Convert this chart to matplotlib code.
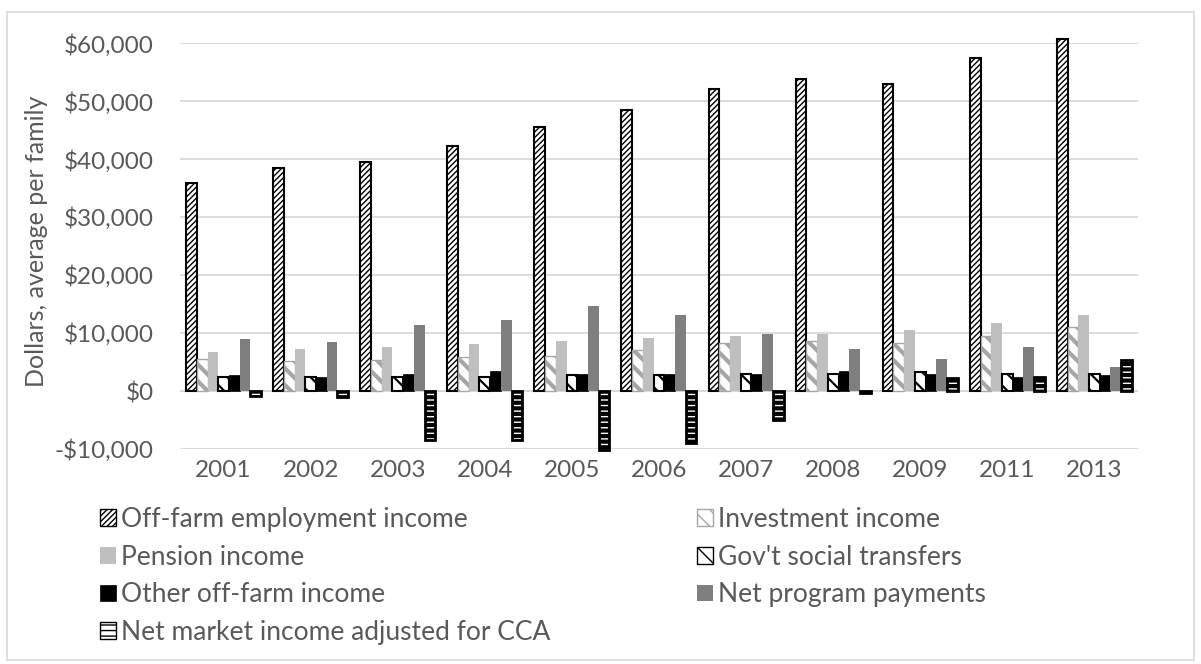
import numpy as np
import matplotlib
matplotlib.use("Agg")
import matplotlib.pyplot as plt
from matplotlib.patches import Rectangle, Patch
from matplotlib.ticker import FuncFormatter

plt.rcParams["font.family"] = ["Lato", "DejaVu Sans"]

years = ["2001", "2002", "2003", "2004", "2005", "2006", "2007", "2008", "2009", "2011", "2013"]

off_farm_employment = [35800, 38500, 39500, 42300, 45500, 48400, 52100, 53800, 52900, 57500, 60700]
investment = [5500, 5100, 5300, 5800, 6000, 7100, 8200, 8700, 8300, 9500, 11100]
pension = [6800, 7200, 7600, 8100, 8600, 9200, 9500, 9900, 10600, 11700, 13100]
govt_transfers = [2400, 2500, 2500, 2500, 2700, 2800, 3000, 2900, 3200, 3000, 2900]
other_off_farm = [2800, 2500, 3000, 3500, 2900, 3000, 3000, 3500, 2900, 2400, 2800]
net_program = [9000, 8500, 11300, 12200, 14600, 13100, 9900, 7200, 5500, 7600, 4200]
net_market_cca = [-900, -1000, -8500, -8400, -10100, -9000, -5000, -300, 2200, 2400, 5300]

labels = ["Off-farm employment income", "Investment income", "Pension income",
          "Gov't social transfers", "Other off-farm income", "Net program payments",
          "Net market income adjusted for CCA"]

series = [off_farm_employment, investment, pension, govt_transfers,
          other_off_farm, net_program, net_market_cca]

# face, edge, hatch, edge width, hatch width
styles = [
    ("white", "black", "//////", 1.5, 1.0),
    ("white", "#a6a6a6", "\\\\", 1.0, 3.0),
    ("#bfbfbf", "none", None, 0, 1.0),
    ("white", "black", "\\\\", 1.5, 1.6),
    ("black", "black", None, 0.5, 1.0),
    ("#7f7f7f", "none", None, 0, 1.0),
    ("white", "black", "---", 2.0, 3.0),
]

TXT = "#595959"

fig = plt.figure(figsize=(12.01, 6.64), dpi=100)
ax = fig.add_axes([0.1499, 0.3238, 0.7976, 0.6114])

x = np.arange(len(years))
w = 0.123
handles = []
for i, (vals, (fc, ec, hatch, lw, hlw)) in enumerate(zip(series, styles)):
    bars = ax.bar(x + (i - 3) * w, vals, w, color=fc, edgecolor=ec, hatch=hatch,
                  linewidth=lw, zorder=3, clip_on=False)
    for b in bars:
        if hasattr(b, "set_hatch_linewidth"):
            b.set_hatch_linewidth(hlw)
    h = Patch(facecolor=fc, edgecolor=ec, hatch=hatch, linewidth=min(lw, 1.0))
    if hasattr(h, "set_hatch_linewidth"):
        h.set_hatch_linewidth(min(hlw, 1.5))
    handles.append(h)

ax.set_xlim(-0.5, len(years) - 0.5)
ax.set_ylim(-10000, 60000)
ax.set_yticks(np.arange(-10000, 60001, 10000))
ax.yaxis.set_major_formatter(FuncFormatter(
    lambda v, p: ("-$" if v < 0 else "$") + f"{abs(int(v)):,}"))
ax.set_xticks(x)
ax.set_xticklabels(years)
ax.grid(axis="y", color="#d9d9d9", linewidth=1.3, zorder=0)
ax.axhline(0, color="#d9d9d9", linewidth=1.3, zorder=1)
for s in ax.spines.values():
    s.set_visible(False)
ax.tick_params(length=0, labelsize=17.5, colors=TXT)
ax.tick_params(axis="y", pad=19)
ax.tick_params(axis="x", pad=8)
ax.set_ylabel("Dollars, average per family", fontsize=18, color=TXT)
ax.yaxis.set_label_coords(-0.1378, 0.512)

# legend: two columns read row by row
leg_kw = dict(loc="upper left", frameon=False, fontsize=19, labelcolor=TXT,
              handlelength=0.6, handleheight=0.6, handletextpad=0.2,
              labelspacing=0.48, borderaxespad=0, borderpad=0)
left = [0, 2, 4, 6]
right = [1, 3, 5]
fig.legend([handles[k] for k in left], [labels[k] for k in left],
           bbox_to_anchor=(100 / 1201, 1 - 507 / 664), **leg_kw)
fig.legend([handles[k] for k in right], [labels[k] for k in right],
           bbox_to_anchor=(697 / 1201, 1 - 507 / 664), **leg_kw)

fig.patches.append(Rectangle((7 / 1201, 4 / 664), 1187 / 1201, 648 / 664,
                             transform=fig.transFigure, fill=False,
                             edgecolor="#d9d9d9", linewidth=1.2))

fig.savefig("out.png", dpi=100)
